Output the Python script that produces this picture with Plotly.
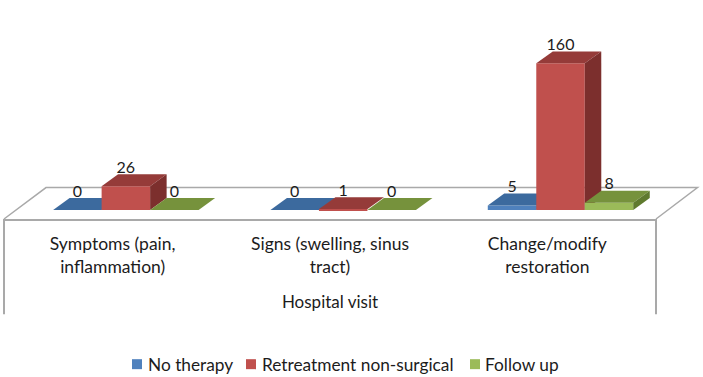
import plotly.graph_objects as go

categories = ["Symptoms (pain,<br>inflammation)", "Signs (swelling, sinus<br>tract)", "Change/modify<br>restoration"]
series_names = ["No therapy", "Retreatment non-surgical", "Follow up"]
no_therapy = [0, 0, 5]
retreatment = [26, 1, 160]
follow_up = [0, 0, 8]
axis_title = "Hospital visit"

W, H = 703, 377
X0, X1 = 4, 656          # front floor edge in px
Y_AXIS = 219.5           # front floor edge in px
PX_PER_CAT = (X1 - X0) / 3
PX_PER_VAL = 147 / 160
BASE_PX = 210.5
YMIN = -(Y_AXIS - BASE_PX) / PX_PER_VAL
YMAX = BASE_PX / PX_PER_VAL
BAR_W = 48.5 / PX_PER_CAT
DX = 16.5 / PX_PER_CAT
DY = 12 / PX_PER_VAL
LABEL_DROP = 2.5 / PX_PER_VAL
FIRST_OFFSET = -0.274

FONT = "Lato, Carlito, Calibri, sans-serif"
GRID = "#a9a9a9"
TEXT = "#1c1c1c"

styles = [
    dict(front="#4F81BD", top="#3C6A9E", side="#2F5A8C"),
    dict(front="#C0504D", top="#953B39", side="#7C2F2D"),
    dict(front="#9BBB59", top="#76923C", side="#5F7A2E"),
]
all_values = [no_therapy, retreatment, follow_up]
xs = list(range(len(categories)))

fig = go.Figure()
for s, (name, vals, st) in enumerate(zip(series_names, all_values, styles)):
    xa = "x" if s == 0 else f"x{s+1}"
    ya = "y" if s == 0 else f"y{s+1}"
    off = FIRST_OFFSET + s * BAR_W
    fig.add_trace(go.Bar(x=xs, y=vals, width=BAR_W, offset=off, name=name, showlegend=False,
                         marker=dict(color=st["front"], line=dict(width=0)),
                         xaxis=xa, yaxis=ya, hoverinfo="skip"))
    for c, v in zip(xs, vals):
        l = c + off
        r = l + BAR_W
        fig.add_trace(go.Scatter(x=[l, r, r + DX, l + DX, l], y=[v, v, v + DY, v + DY, v],
                                 fill="toself", fillcolor=st["top"], mode="lines", line=dict(width=0),
                                 showlegend=False, hoverinfo="skip", xaxis=xa, yaxis=ya))
        fig.add_trace(go.Scatter(x=[r, r + DX, r + DX, r, r], y=[0, DY, v + DY, v, 0],
                                 fill="toself", fillcolor=st["side"], mode="lines", line=dict(width=0),
                                 showlegend=False, hoverinfo="skip", xaxis=xa, yaxis=ya))

for s, vals in enumerate(all_values):
    off = FIRST_OFFSET + s * BAR_W
    fig.add_trace(go.Scatter(x=[c + off + BAR_W / 2 for c in xs], y=[v + DY - LABEL_DROP for v in vals],
                             mode="text", text=[str(v) for v in vals], textposition="top center",
                             textfont=dict(family=FONT, size=16, color=TEXT),
                             showlegend=False, hoverinfo="skip", xaxis="x3", yaxis="y3"))

def px(x):
    return (x - X0) / (X1 - X0)
def py(y):
    return (Y_AXIS - y) / Y_AXIS

shapes = [
    dict(type="path", xref="paper", yref="paper", layer="below",
         path=f"M {px(4)} {py(219.5)} L {px(46)} {py(188)} L {px(697.5)} {py(188)} L {px(656)} {py(219.5)}",
         line=dict(color=GRID, width=1.5)),
    dict(type="line", xref="paper", yref="paper", layer="below", x0=px(4), x1=px(4), y0=py(219.5), y1=py(315),
         line=dict(color=GRID, width=2)),
    dict(type="line", xref="paper", yref="paper", layer="below", x0=px(656), x1=px(656), y0=py(219.5), y1=py(315),
         line=dict(color=GRID, width=2)),
]

# legend row: swatch left edge and label left edge, in px
legend_swatch_px = [132, 246, 470]
legend_text_px = [145.5, 259.5, 482.5]
annotations = []
for name, st, sx, tx in zip(series_names, styles, legend_swatch_px, legend_text_px):
    shapes.append(dict(type="rect", xref="paper", yref="paper", x0=px(sx), x1=px(sx + 10),
                       y0=py(370), y1=py(360), fillcolor=st["front"], line=dict(width=0)))
    annotations.append(dict(text=name, xref="paper", yref="paper", x=px(tx), y=py(365),
                            xanchor="left", yanchor="middle", showarrow=False,
                            font=dict(family=FONT, size=17.3, color=TEXT)))

xrange_ = [-0.5, 2.5]
hidden_x = dict(range=xrange_, visible=False, fixedrange=True)
hidden_y = dict(range=[YMIN, YMAX], visible=False, fixedrange=True)

fig.update_layout(
    width=W, height=H, autosize=False,
    margin=dict(l=X0, r=W - X1, t=0, b=H - Y_AXIS, pad=0),
    paper_bgcolor="white", plot_bgcolor="rgba(0,0,0,0)",
    barmode="overlay",
    shapes=shapes, annotations=annotations,
    font=dict(family=FONT, size=16, color=TEXT),
    xaxis=dict(range=xrange_, tickmode="array", tickvals=xs, ticktext=categories,
               tickfont=dict(family=FONT, size=17.5, color=TEXT), showgrid=False, zeroline=False,
               showline=True, linecolor=GRID, linewidth=2, ticks="", ticklabelstandoff=8,
               title=dict(text=axis_title, font=dict(family=FONT, size=17, color=TEXT), standoff=20),
               fixedrange=True),
    yaxis=dict(range=[YMIN, YMAX], visible=False, fixedrange=True),
    xaxis2=dict(overlaying="x", **hidden_x),
    yaxis2=dict(overlaying="y", **hidden_y),
    xaxis3=dict(overlaying="x", **hidden_x),
    yaxis3=dict(overlaying="y", **hidden_y),
    showlegend=False,
)

fig.write_html("out.html", config={"displayModeBar": False},
               post_script="document.body.style.margin='0';document.body.style.overflow='hidden';")
